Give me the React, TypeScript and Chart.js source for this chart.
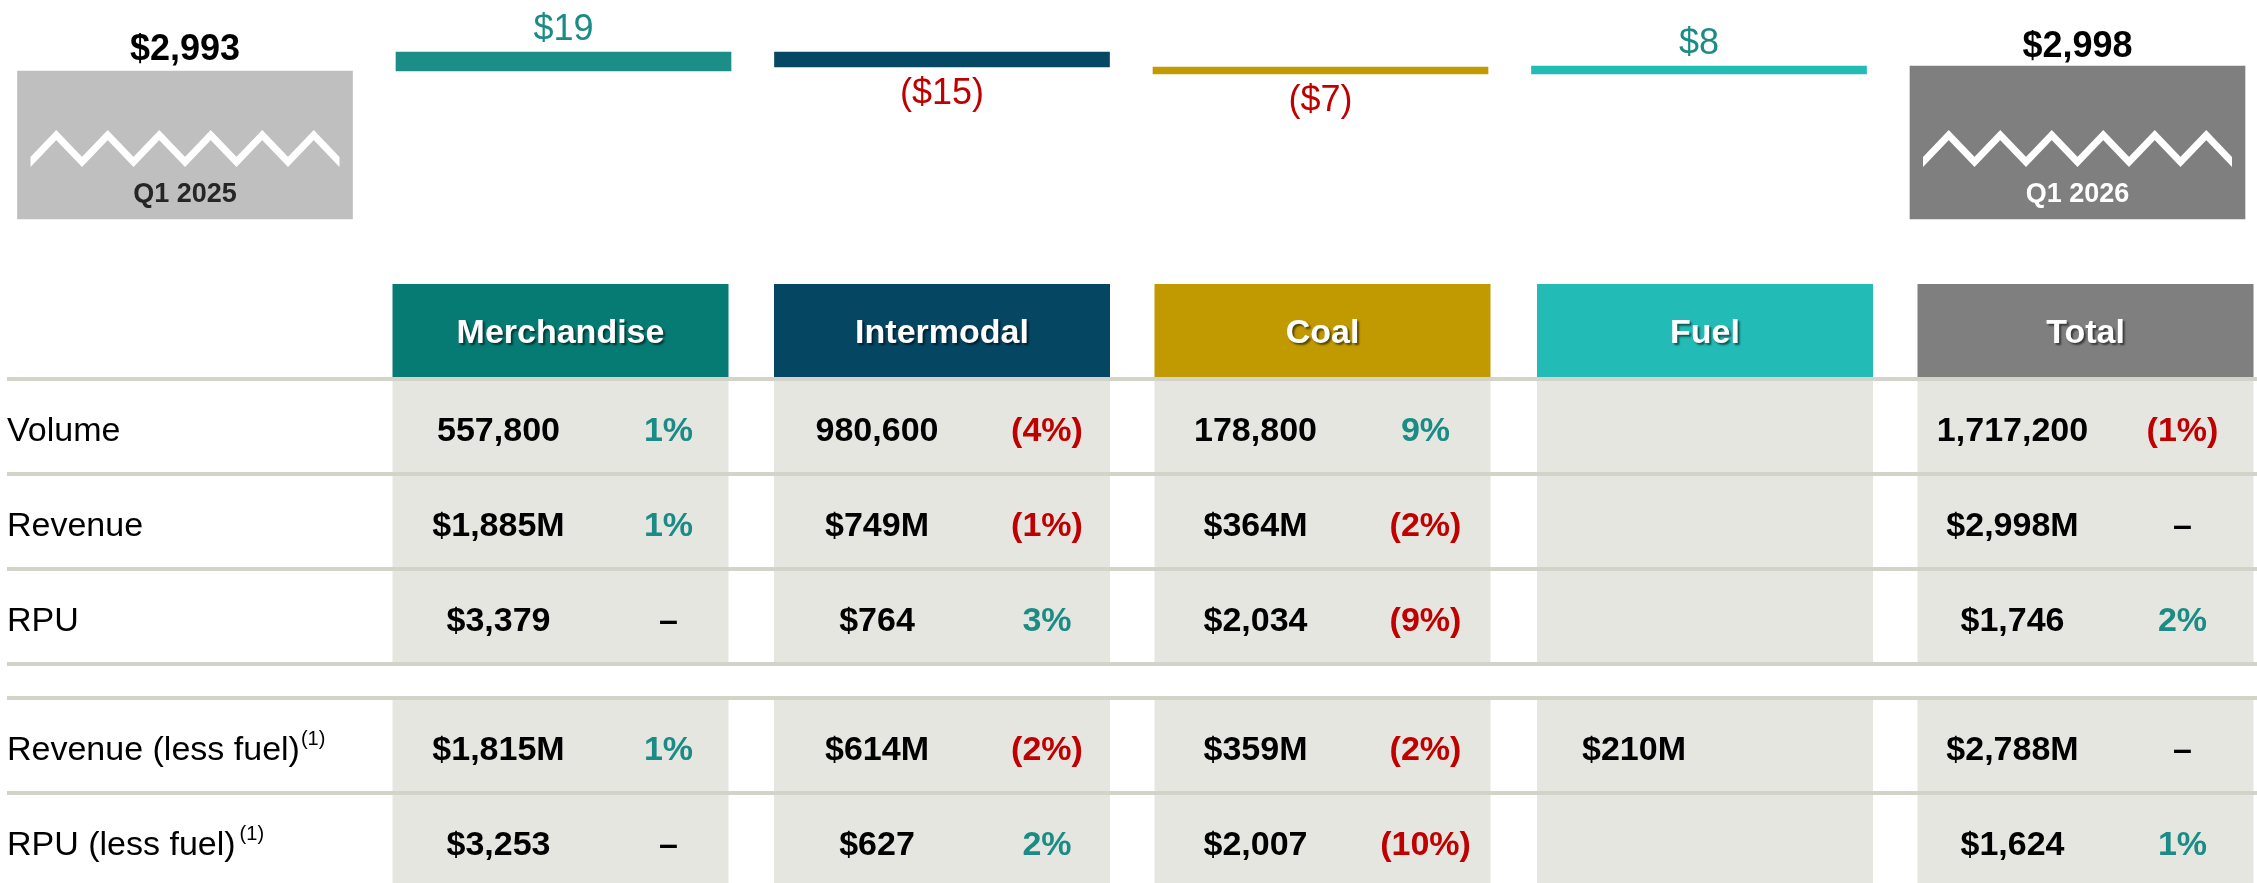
import React, { useEffect, useRef } from 'react';
import { Chart, registerables } from 'chart.js';

Chart.register(...registerables);

// ---------- Bridge (waterfall) data ----------
const bridgeLabels = ['Q1 2025', 'Merchandise', 'Intermodal', 'Coal', 'Fuel', 'Q1 2026'];
const startRevenue = 2993;
const segmentChanges = [19, -15, -7, 8];
const endRevenue = 2998;
const axisFloor = 2845; // broken-axis floor
const axisCeiling = 3064;

// ---------- Table data ----------
const segments = ['Merchandise', 'Intermodal', 'Coal', 'Fuel', 'Total'];
const rowLabels = ['Volume', 'Revenue', 'RPU', 'Revenue (less fuel)', 'RPU (less fuel)'];
const rowFootnotes = ['', '', '', '(1)', '(1)'];
const volume = [557800, 980600, 178800, null, 1717200];
const volumeChange = [1, -4, 9, null, -1];
const revenue = [1885, 749, 364, null, 2998];
const revenueChange = [1, -1, -2, null, 0];
const rpu = [3379, 764, 2034, null, 1746];
const rpuChange = [0, 3, -9, null, 2];
const revenueLessFuel = [1815, 614, 359, 210, 2788];
const revenueLessFuelChange = [1, -2, -2, null, 0];
const rpuLessFuel = [3253, 627, 2007, null, 1624];
const rpuLessFuelChange = [0, 2, -10, null, 1];

// ---------- Styles ----------
const FONT = "'Liberation Sans', Arial, Helvetica, sans-serif";
const POS = '#1a8c85';
const NEG = '#c00000';
const barColors = ['#bfbfbf', '#1b8e87', '#064863', '#c29b00', '#23bcb5', '#7f7f7f'];
const headerColors = ['#067b73', '#054663', '#c09a00', '#22bbb5', '#7f7f7f'];
const cellColor = '#e6e6e1';
const ruleColor = '#d4d3ca';

const fmtInt = (n: number) => n.toLocaleString('en-US');
const fmtVolume = (n: number | null) => (n === null ? '' : fmtInt(n));
const fmtMoneyM = (n: number | null) => (n === null ? '' : '$' + fmtInt(n) + 'M');
const fmtMoney = (n: number | null) => (n === null ? '' : '$' + fmtInt(n));
const fmtChange = (v: number | null) => {
  if (v === null) return null;
  if (v === 0) return { t: '–', c: '#000000' };
  if (v > 0) return { t: v + '%', c: POS };
  return { t: '(' + -v + '%)', c: NEG };
};

const tableRows = [
  { values: volume.map(fmtVolume), changes: volumeChange },
  { values: revenue.map(fmtMoneyM), changes: revenueChange },
  { values: rpu.map(fmtMoney), changes: rpuChange },
  { values: revenueLessFuel.map(fmtMoneyM), changes: revenueLessFuelChange },
  { values: rpuLessFuel.map(fmtMoney), changes: rpuLessFuelChange },
];

function buildBridge() {
  const floating: [number, number][] = [];
  const labelValues: number[] = [];
  floating.push([axisFloor, startRevenue]);
  labelValues.push(startRevenue);
  let run = startRevenue;
  for (const d of segmentChanges) {
    floating.push([run, run + d]);
    labelValues.push(d);
    run += d;
  }
  floating.push([axisFloor, endRevenue]);
  labelValues.push(endRevenue);
  return { floating, labelValues };
}

const bridgePlugin = {
  id: 'bridgeAndTable',
  afterDraw(chart: any) {
    const ctx: CanvasRenderingContext2D = chart.ctx;
    const meta = chart.getDatasetMeta(0);
    const xs = chart.scales.x;
    const { labelValues } = buildBridge();
    const last = meta.data.length - 1;
    ctx.save();
    ctx.textBaseline = 'alphabetic';
    ctx.textAlign = 'center';

    meta.data.forEach((el: any, i: number) => {
      const p = el.getProps(['x', 'y', 'base', 'width'], true);
      const x = p.x;
      const top = Math.min(p.y, p.base);
      const bottom = Math.max(p.y, p.base);
      const v = labelValues[i];
      if (i === 0 || i === last) {
        ctx.font = `bold 36px ${FONT}`;
        ctx.fillStyle = '#000000';
        ctx.fillText('$' + fmtInt(v), x, top - (i === 0 ? 11 : 9));
        // zigzag axis-break mark
        const zw = 309;
        const P = zw / 6;
        const x0 = x - zw / 2;
        ctx.save();
        ctx.beginPath();
        ctx.rect(x0, bottom - 100, zw, 70);
        ctx.clip();
        ctx.beginPath();
        ctx.moveTo(x0 - P / 2, bottom - 84);
        for (let k = 0; k <= 13; k++) {
          const xx = x0 + (k * P) / 2;
          ctx.lineTo(xx, k % 2 === 0 ? bottom - 57 : bottom - 84);
        }
        ctx.strokeStyle = '#ffffff';
        ctx.lineWidth = 7;
        ctx.lineJoin = 'miter';
        ctx.stroke();
        ctx.restore();
        ctx.font = `bold 27px ${FONT}`;
        ctx.fillStyle = i === 0 ? '#262626' : '#ffffff';
        ctx.fillText(bridgeLabels[i], x, bottom - 17);
      } else if (v >= 0) {
        ctx.font = `36px ${FONT}`;
        ctx.fillStyle = POS;
        ctx.fillText('$' + v, x, top - 12);
      } else {
        ctx.font = `36px ${FONT}`;
        ctx.fillStyle = NEG;
        ctx.fillText('($' + -v + ')', x, bottom + 37);
      }
    });

    // ---------- Table ----------
    const W = chart.width;
    const colShift = [-3, 0, 2, 6, 8];
    const colW = 336;
    const centers = segments.map((_, i) => xs.getPixelForValue(i + 1));
    const lefts = centers.map((c: number, i: number) => c - 168 + colShift[i]);
    const headerTop = 284;
    const headerBottom = 377;
    const ruleYs = [379, 474, 569, 664, 698, 793];
    const bands = [
      [379, 474],
      [474, 569],
      [569, 664],
      [698, 793],
      [793, 888],
    ];

    // cell backgrounds
    ctx.fillStyle = cellColor;
    lefts.forEach((l: number) => {
      ctx.fillRect(l, headerBottom, colW, 666 - headerBottom);
      ctx.fillRect(l, 696, colW, chart.height - 696);
    });
    // headers
    lefts.forEach((l: number, i: number) => {
      ctx.fillStyle = headerColors[i];
      ctx.fillRect(l, headerTop, colW, headerBottom - headerTop);
    });
    ctx.save();
    ctx.font = `bold 34px ${FONT}`;
    ctx.fillStyle = '#ffffff';
    ctx.shadowColor = 'rgba(0,0,0,0.55)';
    ctx.shadowOffsetX = 2;
    ctx.shadowOffsetY = 2;
    ctx.shadowBlur = 2;
    lefts.forEach((l: number, i: number) => {
      ctx.fillText(segments[i], l + colW / 2, (headerTop + headerBottom) / 2 + 12.5);
    });
    ctx.restore();

    // rules
    ctx.fillStyle = ruleColor;
    ruleYs.forEach((y) => ctx.fillRect(7, y - 2, W - 7, 4));

    // rows
    tableRows.forEach((row, r) => {
      const base = (bands[r][0] + bands[r][1]) / 2 + 14.5;
      ctx.textAlign = 'left';
      ctx.font = `34px ${FONT}`;
      ctx.fillStyle = '#000000';
      ctx.fillText(rowLabels[r], 7, base);
      if (rowFootnotes[r]) {
        const w = ctx.measureText(rowLabels[r]).width;
        ctx.font = `20px ${FONT}`;
        ctx.fillText(rowFootnotes[r], 7 + w + (r === 4 ? 4 : 1), base - 15);
      }
      ctx.textAlign = 'center';
      ctx.font = `bold 34px ${FONT}`;
      centers.forEach((c: number, i: number) => {
        const val = row.values[i];
        if (val) {
          ctx.fillStyle = '#000000';
          ctx.fillText(val, c - 65, base);
        }
        const ch = fmtChange(row.changes[i]);
        if (ch) {
          ctx.fillStyle = ch.c;
          ctx.fillText(ch.t, c + 105, base);
        }
      });
    });
    ctx.restore();
  },
};

export default function App() {
  const canvasRef = useRef<HTMLCanvasElement | null>(null);

  useEffect(() => {
    const canvas = canvasRef.current;
    if (!canvas) return;
    const { floating } = buildBridge();
    const chart = new Chart(canvas, {
      type: 'bar',
      data: {
        labels: bridgeLabels,
        datasets: [
          {
            data: floating as any,
            backgroundColor: barColors,
            borderWidth: 0,
            barThickness: 335,
            clip: false as any,
          },
        ],
      },
      options: {
        responsive: false,
        animation: false,
        devicePixelRatio: 1,
        layout: { padding: { left: 185, right: 179.5, top: 0, bottom: 664 } },
        plugins: {
          legend: { display: false },
          tooltip: { enabled: false },
          title: { display: false },
        },
        scales: {
          x: { type: 'category', display: false, offset: false, grid: { display: false } },
          y: { type: 'linear', display: false, min: axisFloor, max: axisCeiling, grid: { display: false } },
        },
      },
      plugins: [bridgePlugin],
    });
    return () => chart.destroy();
  }, []);

  return (
    <div style={{ position: 'absolute', left: 0, top: 0, background: '#ffffff' }}>
      <canvas ref={canvasRef} width={2257} height={883} style={{ display: 'block' }} />
    </div>
  );
}
